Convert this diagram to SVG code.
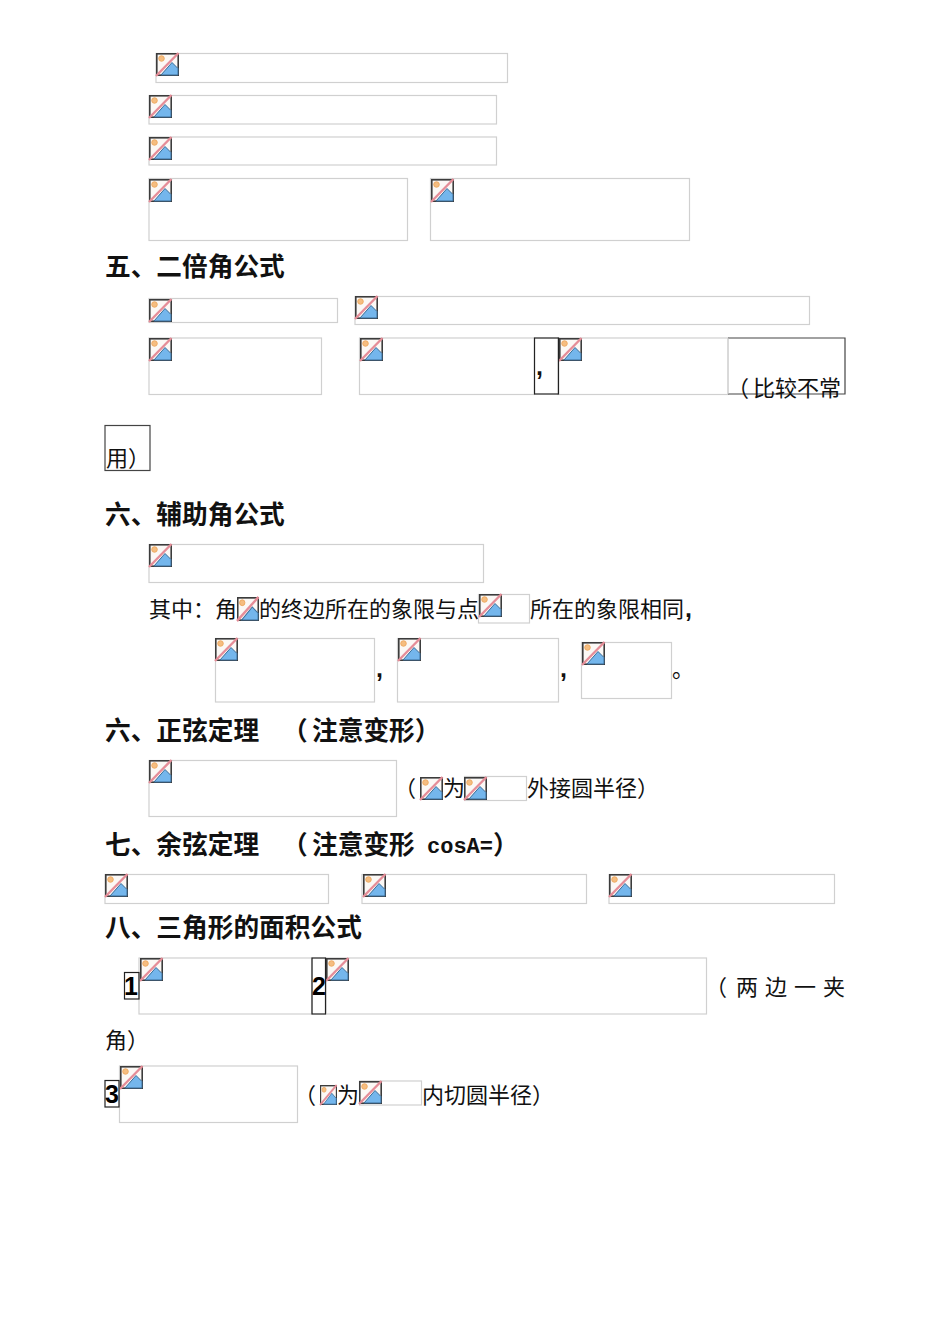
<svg xmlns="http://www.w3.org/2000/svg" width="950" height="1342" viewBox="0 0 950 1342" xml:lang="zh-CN">
<style>
.b{fill:#fff;stroke:#d0d0d0;stroke-width:1.2}
.k{fill:none;stroke:#222;stroke-width:1.2}
text{font-family:"Noto Sans CJK SC","Liberation Sans",sans-serif;fill:#111;text-spacing-trim:space-all;font-kerning:none}
.h{font-size:25.7px;font-weight:700}
.t{font-size:22px}
.c{font-family:"Liberation Sans",sans-serif;font-size:25px;font-weight:700}
.m{font-family:"Liberation Mono",monospace;font-size:22px;font-weight:700}
.n{font-family:"Liberation Sans",sans-serif;font-size:25px;font-weight:700;fill:#000}
</style>
<defs>
<symbol id="ic" viewBox="0 0 23 23" overflow="visible" preserveAspectRatio="none">
<rect x=".8" y=".8" width="21.4" height="21.4" fill="#fbf8f5" stroke="#3c3c3c" stroke-width="1.6"/>
<circle cx="5.5" cy="5.5" r="2.8" fill="#f5bd80" stroke="#eba255" stroke-width=".8"/>
<path d="M5 22 L16 9.500 L22 15.500 V22 Z" fill="#74b6ec" stroke="#3a6d98" stroke-width="1"/>
<path d="M0 23 L22.500 0" stroke="#e58d98" stroke-width="2.400" fill="none"/>
</symbol>
</defs>
<g id="row1"><rect class="b" x="156" y="53.500" width="351.500" height="29"/><use href="#ic" x="156" y="53" width="23" height="23"/></g>
<g id="row2"><rect class="b" x="149" y="95.500" width="347.500" height="28.500"/><use href="#ic" x="149" y="95" width="23" height="23"/></g>
<g id="row3"><rect class="b" x="149" y="137" width="347.500" height="28"/><use href="#ic" x="149" y="137" width="23" height="23"/></g>
<g id="row4"><rect class="b" x="149" y="178.500" width="258.500" height="62"/><use href="#ic" x="149" y="179" width="23" height="23"/><rect class="b" x="430.500" y="178.500" width="259" height="62"/><use href="#ic" x="431" y="179" width="23" height="23"/></g>
<g id="h5"><text class="h" x="105" y="276">五、二倍角公式</text></g>
<g id="s5a"><rect class="b" x="149" y="298.500" width="188.500" height="24"/><use href="#ic" x="149" y="299" width="23" height="23"/><rect class="b" x="355" y="296.500" width="454.500" height="28"/><use href="#ic" x="355" y="296" width="23" height="23"/></g>
<g id="s5b">
<rect class="b" x="149" y="338" width="172.500" height="56.500"/><use href="#ic" x="149" y="338" width="23" height="23"/>
<rect class="b" x="359.500" y="338" width="175" height="56.500"/><use href="#ic" x="360" y="338" width="23" height="23"/>
<rect class="b" x="558" y="338" width="170" height="56.500"/><use href="#ic" x="559" y="338" width="23" height="23"/>
<rect class="k" x="534.500" y="338" width="24" height="56"/>
<text class="c" x="536" y="375">,</text>
<path d="M728 338H845V394H728" fill="none" stroke="#444" stroke-width="1.2"/><path d="M728 338V394" stroke="#d0d0d0"/>
<text class="t" x="727 753 775 797 819" y="396">（比较不常</text>
</g>
<g id="s5c"><rect x="105" y="425.500" width="45" height="45" fill="none" stroke="#444" stroke-width="1.2"/><text class="t" x="106" y="466">用）</text></g>
<g id="h6a"><text class="h" x="105" y="524">六、辅助角公式</text></g>
<g id="s6a"><rect class="b" x="149" y="544.500" width="334.500" height="38"/><use href="#ic" x="149" y="544" width="23" height="23"/></g>
<g id="s6b">
<text class="t" x="149" y="617">其中：角</text><use href="#ic" x="237" y="597" width="22" height="24"/>
<text class="t" x="259" y="617">的终边所在的象限与点</text>
<rect class="b" x="478.500" y="594.500" width="51" height="28.500"/><use href="#ic" x="479" y="594" width="23" height="23"/>
<text class="t" x="530" y="617">所在的象限相同</text><text class="c" x="685" y="617">,</text>
</g>
<g id="s6c">
<rect class="b" x="215.500" y="638.500" width="159" height="63.500"/><use href="#ic" x="215" y="638" width="23" height="23"/>
<text class="c" x="376" y="677">,</text>
<rect class="b" x="397.500" y="638.500" width="161" height="63.500"/><use href="#ic" x="398" y="638" width="23" height="23"/>
<text class="c" x="560" y="677">,</text>
<rect class="b" x="581.500" y="642.500" width="90" height="56"/><use href="#ic" x="582" y="642" width="23" height="23"/>
<text class="t" x="672" y="677">。</text>
</g>
<g id="h6b"><text class="h" x="105" y="740">六、正弦定理</text><text class="h" x="282 312 337.700 363.400 389.100 414.800" y="740">（注意变形）</text></g>
<g id="s6d">
<rect class="b" x="149" y="760.500" width="247.500" height="56"/><use href="#ic" x="149" y="760" width="23" height="23"/>
<text class="t" x="394" y="796">（</text><use href="#ic" x="420" y="777" width="23" height="23"/><text class="t" x="443" y="796">为</text>
<rect class="b" x="464.500" y="776.500" width="62" height="24"/><use href="#ic" x="464" y="777" width="23" height="23"/>
<text class="t" x="527" y="796">外接圆半径）</text>
</g>
<g id="h7"><text class="h" x="105" y="854">七、余弦定理</text><text class="h" x="282 312 337.700 363.400 389.100" y="854">（注意变形</text><text class="m" x="427" y="853">cosA=</text><text class="h" x="493" y="854">）</text></g>
<g id="s7">
<rect class="b" x="105" y="874.500" width="223.500" height="29"/><use href="#ic" x="105" y="874" width="23" height="23"/>
<rect class="b" x="362" y="874.500" width="224.500" height="29"/><use href="#ic" x="363" y="874" width="23" height="23"/>
<rect class="b" x="609" y="874.500" width="225.500" height="29"/><use href="#ic" x="609" y="874" width="23" height="23"/>
</g>
<g id="h8"><text class="h" x="105" y="937">八、三角形的面积公式</text></g>
<g id="s8a">
<rect class="b" x="139" y="958" width="173" height="56"/><use href="#ic" x="140" y="958" width="23" height="23"/>
<rect class="b" x="326" y="958" width="380.500" height="56"/><use href="#ic" x="326" y="958" width="23" height="23"/>
<rect class="k" x="124.500" y="972.500" width="14.500" height="26.500"/><text class="n" x="124" y="995">1</text>
<rect class="k" x="312" y="958" width="13.500" height="56"/><text class="n" x="312" y="995">2</text>
<text class="t" x="705 736 765 794 823" y="995">（两边一夹</text>
<text class="t" x="105" y="1048">角）</text>
</g>
<g id="s8b">
<rect class="b" x="119.500" y="1066" width="178" height="56.500"/><use href="#ic" x="120" y="1066" width="23" height="23"/>
<rect class="k" x="105" y="1080.500" width="14" height="26.500"/><text class="n" x="105" y="1103">3</text>
<text class="t" x="294" y="1103">（</text><use href="#ic" x="320" y="1085" width="17" height="20"/><text class="t" x="337" y="1103">为</text>
<rect class="b" x="359.500" y="1081" width="62" height="24"/><use href="#ic" x="359" y="1081" width="23" height="23"/>
<text class="t" x="422" y="1103">内切圆半径）</text>
</g>
</svg>
